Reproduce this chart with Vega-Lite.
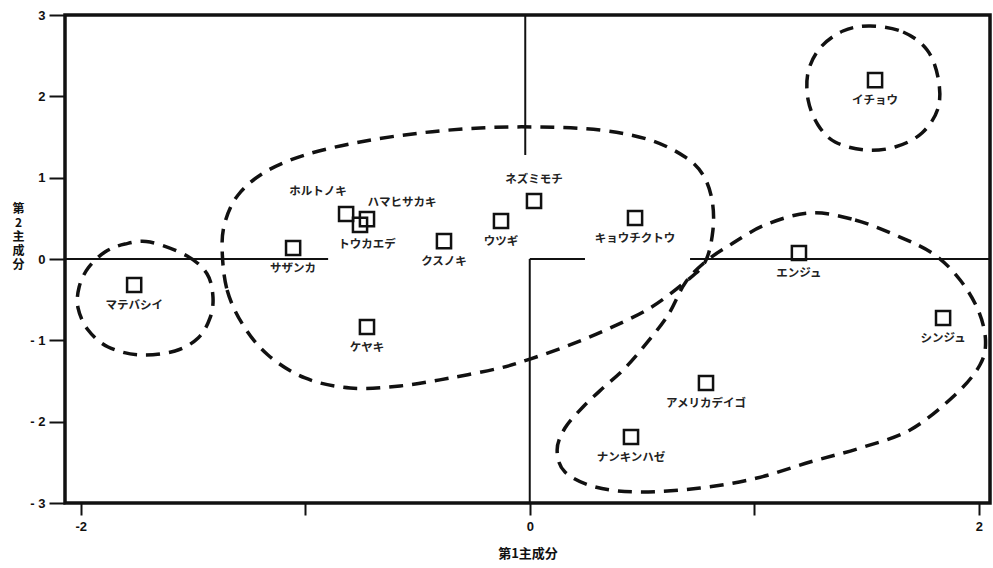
{
  "$schema": "https://vega.github.io/schema/vega-lite/v6.json",
  "width": 925,
  "height": 488,
  "autosize": {"type": "none"},
  "padding": {"left": 65, "top": 15, "right": 3, "bottom": 65},
  "background": "white",
  "config": {
    "view": {"stroke": "#111", "strokeWidth": 3.5},
    "axis": {
      "domain": false,
      "grid": false,
      "tickColor": "#111",
      "tickWidth": 2,
      "labelColor": "#111",
      "labelFont": "Liberation Sans",
      "labelFontWeight": "bold",
      "labelFontSize": 13,
      "titleColor": "#111",
      "titleFont": "Noto Sans CJK JP",
      "titleFontWeight": "bold",
      "titleFontSize": 13
    }
  },
  "datasets": {
    "trees": [
      {"name": "マテバシイ", "x": -1.762, "y": -0.32},
      {"name": "サザンカ", "x": -1.054, "y": 0.135},
      {"name": "ホルトノキ", "x": -0.818, "y": 0.553},
      {"name": "ハマヒサカキ", "x": -0.725, "y": 0.49},
      {"name": "トウカエデ", "x": -0.756, "y": 0.42},
      {"name": "ケヤキ", "x": -0.725, "y": -0.836},
      {"name": "クスノキ", "x": -0.382, "y": 0.22},
      {"name": "ウツギ", "x": -0.128, "y": 0.467},
      {"name": "ネズミモチ", "x": 0.019, "y": 0.713},
      {"name": "キョウチクトウ", "x": 0.469, "y": 0.504},
      {"name": "イチョウ", "x": 1.538, "y": 2.2},
      {"name": "エンジュ", "x": 1.199, "y": 0.074},
      {"name": "シンジュ", "x": 1.841, "y": -0.725},
      {"name": "アメリカデイゴ", "x": 0.785, "y": -1.525},
      {"name": "ナンキンハゼ", "x": 0.451, "y": -2.188}
    ],
    "zero": [
      {"x": -2.07, "x2": -0.898, "y": 0, "y2": 0},
      {"x": 0, "x2": 0.246, "y": 0, "y2": 0},
      {"x": 0.714, "x2": 2.05, "y": 0, "y2": 0},
      {"x": -0.02, "x2": -0.02, "y": 1.279, "y2": 3},
      {"x": 0, "x2": 0, "y": -3, "y2": 0}
    ],
    "groups": [
      {"g": "A", "i": 1, "x": -1.691, "y": 0.209},
      {"g": "A", "i": 2, "x": -1.526, "y": 0.037},
      {"g": "A", "i": 3, "x": -1.437, "y": -0.184},
      {"g": "A", "i": 4, "x": -1.411, "y": -0.467},
      {"g": "A", "i": 5, "x": -1.424, "y": -0.725},
      {"g": "A", "i": 6, "x": -1.477, "y": -0.971},
      {"g": "A", "i": 7, "x": -1.58, "y": -1.131},
      {"g": "A", "i": 8, "x": -1.736, "y": -1.18},
      {"g": "A", "i": 9, "x": -1.878, "y": -1.082},
      {"g": "A", "i": 10, "x": -1.967, "y": -0.873},
      {"g": "A", "i": 11, "x": -2.012, "y": -0.602},
      {"g": "A", "i": 12, "x": -2.007, "y": -0.344},
      {"g": "A", "i": 13, "x": -1.967, "y": -0.111},
      {"g": "A", "i": 14, "x": -1.892, "y": 0.086},
      {"g": "A", "i": 15, "x": -1.803, "y": 0.184},
      {"g": "B", "i": 1, "x": -1.37, "y": 0.111},
      {"g": "B", "i": 2, "x": -1.348, "y": -0.381},
      {"g": "B", "i": 3, "x": -1.277, "y": -0.811},
      {"g": "B", "i": 4, "x": -1.166, "y": -1.18},
      {"g": "B", "i": 5, "x": -1.001, "y": -1.463},
      {"g": "B", "i": 6, "x": -0.8, "y": -1.586},
      {"g": "B", "i": 7, "x": -0.578, "y": -1.561},
      {"g": "B", "i": 8, "x": -0.355, "y": -1.463},
      {"g": "B", "i": 9, "x": -0.132, "y": -1.34},
      {"g": "B", "i": 10, "x": 0.001, "y": -1.23},
      {"g": "B", "i": 11, "x": 0.179, "y": -1.057},
      {"g": "B", "i": 12, "x": 0.358, "y": -0.848},
      {"g": "B", "i": 13, "x": 0.536, "y": -0.602},
      {"g": "B", "i": 14, "x": 0.692, "y": -0.283},
      {"g": "B", "i": 15, "x": 0.781, "y": -0.037},
      {"g": "B", "i": 16, "x": 0.816, "y": 0.357},
      {"g": "B", "i": 17, "x": 0.812, "y": 0.725},
      {"g": "B", "i": 18, "x": 0.772, "y": 1.033},
      {"g": "B", "i": 19, "x": 0.692, "y": 1.254},
      {"g": "B", "i": 20, "x": 0.536, "y": 1.463},
      {"g": "B", "i": 21, "x": 0.313, "y": 1.586},
      {"g": "B", "i": 22, "x": 0.046, "y": 1.623},
      {"g": "B", "i": 23, "x": -0.221, "y": 1.611},
      {"g": "B", "i": 24, "x": -0.489, "y": 1.549},
      {"g": "B", "i": 25, "x": -0.756, "y": 1.439},
      {"g": "B", "i": 26, "x": -1.001, "y": 1.279},
      {"g": "B", "i": 27, "x": -1.179, "y": 1.07},
      {"g": "B", "i": 28, "x": -1.299, "y": 0.787},
      {"g": "B", "i": 29, "x": -1.357, "y": 0.455},
      {"g": "C", "i": 1, "x": 1.516, "y": 2.865},
      {"g": "C", "i": 2, "x": 1.663, "y": 2.791},
      {"g": "C", "i": 3, "x": 1.77, "y": 2.57},
      {"g": "C", "i": 4, "x": 1.819, "y": 2.225},
      {"g": "C", "i": 5, "x": 1.819, "y": 1.857},
      {"g": "C", "i": 6, "x": 1.747, "y": 1.549},
      {"g": "C", "i": 7, "x": 1.627, "y": 1.377},
      {"g": "C", "i": 8, "x": 1.493, "y": 1.34},
      {"g": "C", "i": 9, "x": 1.36, "y": 1.439},
      {"g": "C", "i": 10, "x": 1.284, "y": 1.648},
      {"g": "C", "i": 11, "x": 1.24, "y": 1.955},
      {"g": "C", "i": 12, "x": 1.24, "y": 2.299},
      {"g": "C", "i": 13, "x": 1.293, "y": 2.594},
      {"g": "C", "i": 14, "x": 1.395, "y": 2.803},
      {"g": "D", "i": 1, "x": 1.248, "y": 0.566},
      {"g": "D", "i": 2, "x": 1.449, "y": 0.48},
      {"g": "D", "i": 3, "x": 1.649, "y": 0.27},
      {"g": "D", "i": 4, "x": 1.805, "y": 0.049},
      {"g": "D", "i": 5, "x": 1.917, "y": -0.258},
      {"g": "D", "i": 6, "x": 1.997, "y": -0.627},
      {"g": "D", "i": 7, "x": 2.03, "y": -0.996},
      {"g": "D", "i": 8, "x": 2.005, "y": -1.303},
      {"g": "D", "i": 9, "x": 1.894, "y": -1.672},
      {"g": "D", "i": 10, "x": 1.694, "y": -2.102},
      {"g": "D", "i": 11, "x": 1.471, "y": -2.324},
      {"g": "D", "i": 12, "x": 1.248, "y": -2.496},
      {"g": "D", "i": 13, "x": 1.012, "y": -2.693},
      {"g": "D", "i": 14, "x": 0.759, "y": -2.816},
      {"g": "D", "i": 15, "x": 0.491, "y": -2.865},
      {"g": "D", "i": 16, "x": 0.291, "y": -2.803},
      {"g": "D", "i": 17, "x": 0.157, "y": -2.619},
      {"g": "D", "i": 18, "x": 0.122, "y": -2.348},
      {"g": "D", "i": 19, "x": 0.157, "y": -2.078},
      {"g": "D", "i": 20, "x": 0.237, "y": -1.82},
      {"g": "D", "i": 21, "x": 0.326, "y": -1.586},
      {"g": "D", "i": 22, "x": 0.416, "y": -1.365},
      {"g": "D", "i": 23, "x": 0.514, "y": -1.057},
      {"g": "D", "i": 24, "x": 0.616, "y": -0.689},
      {"g": "D", "i": 25, "x": 0.692, "y": -0.295},
      {"g": "D", "i": 26, "x": 0.781, "y": -0.037},
      {"g": "D", "i": 27, "x": 0.892, "y": 0.172},
      {"g": "D", "i": 28, "x": 1.048, "y": 0.418}
    ]
  },
  "encoding": {
    "x": {
      "field": "x",
      "type": "quantitative",
      "scale": {"domain": [-2.07, 2.05], "nice": false, "zero": false},
      "axis": {
        "values": [-2, -1, 0, 1, 2],
        "labelExpr": "datum.value == -2 ? '-2' : (datum.value == 0 ? '0' : (datum.value == 2 ? '2' : ''))",
        "tickSize": 12,
        "labelPadding": 5,
        "title": "第1主成分",
        "titleY": 50,
        "titleBaseline": "middle"
      }
    },
    "y": {
      "field": "y",
      "type": "quantitative",
      "scale": {"domain": [-3, 3], "nice": false, "zero": false},
      "axis": {
        "values": [-3, -2, -1, 0, 1, 2, 3],
        "labelExpr": "datum.value < 0 ? '- ' + (-datum.value) : datum.label",
        "tickSize": 16,
        "labelPadding": 4,
        "title": ["第", "2", "主", "成", "分"],
        "titleFontSize": 12,
        "titleAngle": 0,
        "titleAlign": "center",
        "titleBaseline": "top",
        "titleLineHeight": 14,
        "titleX": -47,
        "titleY": 188
      }
    }
  },
  "layer": [
    {
      "data": {"name": "zero"},
      "mark": {"type": "rule", "color": "#111", "strokeWidth": 2},
      "encoding": {
        "x2": {"field": "x2"},
        "y2": {"field": "y2"}
      }
    },
    {
      "data": {"name": "groups"},
      "mark": {"type": "line", "interpolate": "cardinal-closed", "color": "#111", "strokeWidth": 3.5, "strokeDash": [14, 9]},
      "encoding": {
        "detail": {"field": "g", "type": "nominal"},
        "order": {"field": "i", "type": "quantitative"}
      }
    },
    {
      "data": {"name": "trees"},
      "mark": {"type": "point", "shape": "square", "size": 200, "filled": false, "stroke": "#111", "strokeWidth": 2.5, "opacity": 1}
    },
    {
      "data": {"name": "trees"},
      "transform": [{"filter": {"not": {"field": "name", "oneOf": ["ホルトノキ", "ハマヒサカキ", "ネズミモチ", "トウカエデ"]}}}],
      "mark": {"type": "text", "font": "Noto Sans CJK JP", "fontSize": 11.5, "fontWeight": "bold", "color": "#222", "baseline": "middle", "dy": 21},
      "encoding": {"text": {"field": "name"}}
    },
    {
      "data": {"name": "trees"},
      "transform": [{"filter": {"field": "name", "equal": "ホルトノキ"}}],
      "mark": {"type": "text", "font": "Noto Sans CJK JP", "fontSize": 11.5, "fontWeight": "bold", "color": "#222", "baseline": "middle", "dx": -28, "dy": -22},
      "encoding": {"text": {"field": "name"}}
    },
    {
      "data": {"name": "trees"},
      "transform": [{"filter": {"field": "name", "equal": "ハマヒサカキ"}}],
      "mark": {"type": "text", "font": "Noto Sans CJK JP", "fontSize": 11.5, "fontWeight": "bold", "color": "#222", "baseline": "middle", "dx": 35, "dy": -16},
      "encoding": {"text": {"field": "name"}}
    },
    {
      "data": {"name": "trees"},
      "transform": [{"filter": {"field": "name", "equal": "ネズミモチ"}}],
      "mark": {"type": "text", "font": "Noto Sans CJK JP", "fontSize": 11.5, "fontWeight": "bold", "color": "#222", "baseline": "middle", "dy": -21},
      "encoding": {"text": {"field": "name"}}
    },
    {
      "data": {"name": "trees"},
      "transform": [{"filter": {"field": "name", "equal": "トウカエデ"}}],
      "mark": {"type": "text", "font": "Noto Sans CJK JP", "fontSize": 11.5, "fontWeight": "bold", "color": "#222", "baseline": "middle", "dx": 7, "dy": 20},
      "encoding": {"text": {"field": "name"}}
    }
  ]
}
